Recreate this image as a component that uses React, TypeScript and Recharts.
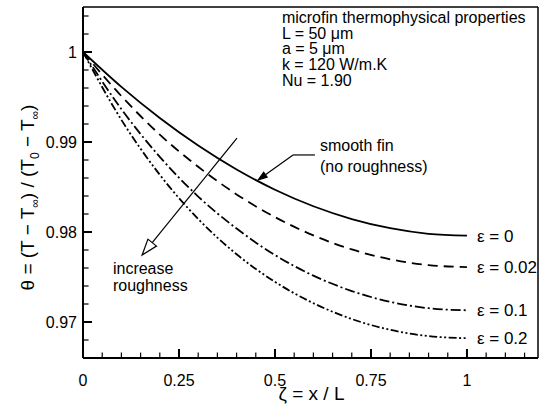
import {
  LineChart,
  Line,
  XAxis,
  YAxis,
  ReferenceLine,
  ReferenceDot,
} from 'recharts';

// dimensionless position along the fin
const zeta = [0, 0.1, 0.2, 0.3, 0.4, 0.5, 0.6, 0.7, 0.8, 0.9, 1];

// dimensionless temperature, one list per roughness level
const thetaE0 = [1, 0.99612, 0.99266, 0.9896, 0.98694, 0.9847, 0.98286, 0.98144, 0.98042, 0.9798, 0.9796];
const thetaE002 = [1, 0.9951, 0.99082, 0.98725, 0.98418, 0.98165, 0.97962, 0.97806, 0.97697, 0.97632, 0.9761];
const thetaE01 = [1, 0.99365, 0.98835, 0.98394, 0.98038, 0.97744, 0.97515, 0.97344, 0.97224, 0.97153, 0.9713];
const thetaE02 = [1, 0.99246, 0.98636, 0.98145, 0.97753, 0.97446, 0.97209, 0.97033, 0.96913, 0.96843, 0.9682];

const seriesNames = ['ε = 0', 'ε = 0.02', 'ε = 0.1', 'ε = 0.2'];

// axis ticks: all tick marks, and the labelled (major) ones
const xTicks = [0.05, 0.1, 0.15, 0.2, 0.25, 0.3, 0.35, 0.4, 0.45, 0.5, 0.55, 0.6, 0.65, 0.7, 0.75, 0.8, 0.85, 0.9, 0.95, 1, 1.05, 1.1, 1.15];
const xMajor = [0, 0.25, 0.5, 0.75, 1];
const yTicks = [0.968, 0.97, 0.972, 0.974, 0.976, 0.978, 0.98, 0.982, 0.984, 0.986, 0.988, 0.99, 0.992, 0.994, 0.996, 0.998, 1, 1.002, 1.004];
const yMajor = [0.97, 0.98, 0.99, 1];

const properties = ['microfin thermophysical properties', 'L = 50 μm', 'a = 5 μm', 'k = 120 W/m.K', 'Nu = 1.90'];

const X_DOMAIN: [number, number] = [0, 1.185];
const Y_DOMAIN: [number, number] = [0.966, 1.005];
const FONT = '"Liberation Sans", Arial, Helvetica, sans-serif';

// inward tick lengths in data units (~9px major, ~5px minor)
const X_TICK_LEN = { major: 0.001, minor: 0.0006 };
const Y_TICK_LEN = { major: 0.0234, minor: 0.0145 };

const data = zeta.map((z, i) => ({
  zeta: z,
  e0: thetaE0[i],
  e002: thetaE002[i],
  e01: thetaE01[i],
  e02: thetaE02[i],
}));

const lines = [
  { key: 'e0', dash: undefined, end: thetaE0[thetaE0.length - 1] },
  { key: 'e002', dash: '10 6', end: thetaE002[thetaE002.length - 1] },
  { key: 'e01', dash: '10 3 2 3', end: thetaE01[thetaE01.length - 1] },
  { key: 'e02', dash: '8 2.5 2 2.5 2 2.5', end: thetaE02[thetaE02.length - 1] },
];

const isIn = (v: number, list: number[]) => list.some((m) => Math.abs(m - v) < 1e-9);

function XTick(props: any) {
  const { x, y, payload } = props;
  return (
    <text x={x} y={y + 28} textAnchor="middle" fontSize={16} fill="#000">
      {String(payload.value)}
    </text>
  );
}

function YTick(props: any) {
  const { x, y, payload } = props;
  return (
    <text x={x - 6} y={y + 6} textAnchor="end" fontSize={16} fill="#000">
      {String(payload.value)}
    </text>
  );
}

function XTitle(props: any) {
  const { viewBox } = props;
  const cx = viewBox.x + viewBox.width / 2 + 1;
  return (
    <text x={cx} y={viewBox.y + 42} textAnchor="middle" fontSize={19} fill="#000">
      ζ = x / L
    </text>
  );
}

function YTitle(props: any) {
  const { viewBox } = props;
  const cx = viewBox.x + 34;
  const cy = viewBox.y + viewBox.height / 2 + 15;
  return (
    <text
      x={cx}
      y={cy}
      textAnchor="middle"
      fontSize={19}
      fill="#000"
      transform={`rotate(-90, ${cx}, ${cy})`}
    >
      <tspan>θ = (T − T</tspan>
      <tspan dy={5} fontSize={12}>∞</tspan>
      <tspan dy={-5}>) / (T</tspan>
      <tspan dy={5} fontSize={12}>0</tspan>
      <tspan dy={-5}> − T</tspan>
      <tspan dy={5} fontSize={12}>∞</tspan>
      <tspan dy={-5}>)</tspan>
    </text>
  );
}

// leader line ending in an arrow head; hollow or filled
const arrowShape = (len: number, half: number, hollow: boolean) => (p: any) => {
  const { x1, y1, x2, y2 } = p;
  const dx = x2 - x1;
  const dy = y2 - y1;
  const d = Math.hypot(dx, dy) || 1;
  const ux = dx / d;
  const uy = dy / d;
  const bx = x2 - ux * len;
  const by = y2 - uy * len;
  const pts = `${x2},${y2} ${bx - uy * half},${by + ux * half} ${bx + uy * half},${by - ux * half}`;
  return (
    <g>
      <line x1={x1} y1={y1} x2={bx} y2={by} stroke="#000" strokeWidth={1.2} />
      <polygon points={pts} fill={hollow ? '#fff' : '#000'} stroke="#000" strokeWidth={1.2} />
    </g>
  );
};

const textShape = (rows: string[], size: number, lineHeight: number) => (p: any) => (
  <text x={p.cx} y={p.cy + size * 0.36} fontSize={size} fill="#000">
    {rows.map((r, i) => (
      <tspan key={i} x={p.cx} dy={i === 0 ? 0 : lineHeight}>
        {r}
      </tspan>
    ))}
  </text>
);

export default function App() {
  return (
    <div style={{ position: 'absolute', left: 0, top: 0, width: 542, height: 417, background: '#fff', fontFamily: FONT }}>
      <LineChart width={542} height={417} data={data} margin={{ top: 7, right: 4, left: 0, bottom: 0 }}>
        <XAxis
          dataKey="zeta"
          type="number"
          domain={X_DOMAIN}
          ticks={xMajor}
          interval={0}
          height={59}
          tickSize={0}
          tickMargin={0}
          tickLine={false}
          tick={<XTick />}
          axisLine={{ stroke: '#000', strokeWidth: 2 }}
          allowDataOverflow
          label={{ content: XTitle }}
        />
        <YAxis
          type="number"
          domain={Y_DOMAIN}
          ticks={yMajor}
          interval={0}
          width={83}
          tickSize={0}
          tickMargin={0}
          tickLine={false}
          tick={<YTick />}
          axisLine={{ stroke: '#000', strokeWidth: 2 }}
          allowDataOverflow
          label={{ content: YTitle }}
        />
        {/* top and right frame */}
        <ReferenceLine y={Y_DOMAIN[1]} stroke="#000" strokeWidth={1.5} ifOverflow="visible" />
        <ReferenceLine x={X_DOMAIN[1]} stroke="#000" strokeWidth={1.5} ifOverflow="visible" />
        {xTicks.map((v) => {
          const major = isIn(v, xMajor);
          return (
            <ReferenceLine
              key={`xt-${v}`}
              ifOverflow="visible"
              segment={[
                { x: v, y: Y_DOMAIN[0] },
                { x: v, y: Y_DOMAIN[0] + (major ? X_TICK_LEN.major : X_TICK_LEN.minor) },
              ]}
              stroke="#000"
              strokeWidth={major ? 2 : 1.2}
            />
          );
        })}
        {yTicks.map((v) => {
          const major = isIn(v, yMajor);
          return (
            <ReferenceLine
              key={`yt-${v}`}
              ifOverflow="visible"
              segment={[
                { x: X_DOMAIN[0], y: v },
                { x: X_DOMAIN[0] + (major ? Y_TICK_LEN.major : Y_TICK_LEN.minor), y: v },
              ]}
              stroke="#000"
              strokeWidth={major ? 2 : 1.2}
            />
          );
        })}
        {lines.map((l) => (
          <Line
            key={l.key}
            type="monotone"
            dataKey={l.key}
            stroke="#000"
            strokeWidth={1.8}
            strokeDasharray={l.dash}
            dot={false}
            activeDot={false}
            isAnimationActive={false}
          />
        ))}
        {lines.map((l, i) => (
          <ReferenceDot
            key={`lab-${l.key}`}
            x={1.026}
            y={l.end}
            r={0}
            shape={textShape([seriesNames[i]], 17, 17)}
          />
        ))}
        <ReferenceDot x={0.518} y={1.00389} r={0} shape={textShape(properties, 16, 15.75)} />
        <ReferenceDot x={0.617} y={0.98967} r={0} shape={textShape(['smooth fin', '(no roughness)'], 16, 21)} />
        <ReferenceDot x={0.078} y={0.976} r={0} shape={textShape(['increase', 'roughness'], 16, 17)} />
        <ReferenceLine
          segment={[
            { x: 0.604, y: 0.98856 },
            { x: 0.547, y: 0.98856 },
          ]}
          stroke="#000"
          strokeWidth={1.2}
        />
        <ReferenceLine
          segment={[
            { x: 0.547, y: 0.98856 },
            { x: 0.456, y: 0.98578 },
          ]}
          shape={arrowShape(9, 3, false)}
        />
        <ReferenceLine
          segment={[
            { x: 0.401, y: 0.99044 },
            { x: 0.154, y: 0.97744 },
          ]}
          shape={arrowShape(16, 5.5, true)}
        />
      </LineChart>
    </div>
  );
}
